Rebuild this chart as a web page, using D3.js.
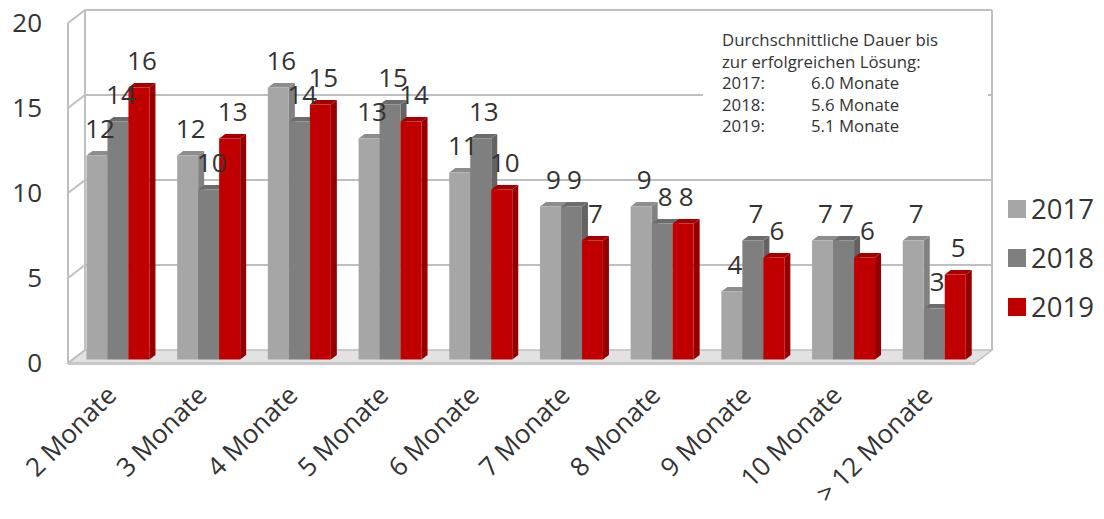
<!DOCTYPE html>
<html><head><meta charset="utf-8">
<script src="https://cdn.jsdelivr.net/npm/d3@7"></script>
<style>
html,body{margin:0;padding:0;background:#fff;}
text{font-family:"Open Sans",sans-serif;fill:#333;}
</style></head>
<body>
<svg id="c" width="1104" height="519"></svg>
<script>
const categories = ["2 Monate","3 Monate","4 Monate","5 Monate","6 Monate","7 Monate","8 Monate","9 Monate","10 Monate","> 12 Monate"];
const series = ["2017","2018","2019"];
const values2017 = [12,12,16,13,11,9,9,4,7,7];
const values2018 = [14,10,14,15,13,9,8,7,7,3];
const values2019 = [16,13,15,14,10,7,8,6,6,5];
const yTicks = [0,5,10,15,20];
const noteLines = ["Durchschnittliche Dauer bis","zur erfolgreichen Lösung:"];
const noteYears = ["2017:","2018:","2019:"];
const noteValues = ["6.0 Monate","5.6 Monate","5.1 Monate"];

const colors = {"2017":"#A6A6A6","2018":"#7F7F7F","2019":"#C00000"};
const data = series.map((s,i)=>({s, vals:[values2017,values2018,values2019][i]}));

const svg = d3.select("#c");
const gridC = "#BFBFBF";

// back wall geometry
const BX0 = 85, BX1 = 992;
const yBack = d3.scaleLinear().domain([0,20]).range([350,10]);
const FX = -17, FY = 13;           // front plane offset
const PX = -12.4, PY = 9.5;        // bar plane offset
const DX = 6, DY = -4.6;           // bar depth

const x = d3.scaleBand().domain(categories).range([BX0+PX, BX1+PX]).paddingInner(0.3054).paddingOuter(0.1527);
const xs = d3.scaleBand().domain(series).range([0, x.bandwidth()]);
const yBar = v => yBack(v) + PY;

// floor
const b0 = yBack(0);
svg.append("polygon")
  .attr("points", [[BX0,b0],[BX1,b0],[BX1+FX,b0+FY],[BX0+FX,b0+FY]].map(p=>p.join(",")).join(" "))
  .attr("fill","#E2E2E2").attr("stroke",gridC).attr("stroke-width",1.5);
svg.append("line").attr("x1",BX0+FX).attr("x2",BX1+FX).attr("y1",b0+FY+1).attr("y2",b0+FY+1)
  .attr("stroke","#C8C8C8").attr("stroke-width",2);

// gridlines back wall + left wall
yTicks.forEach(t=>{
  const yy = yBack(t);
  if (t>0) svg.append("line").attr("x1",BX0).attr("x2",BX1).attr("y1",yy).attr("y2",yy)
    .attr("stroke",gridC).attr("stroke-width",2);
  svg.append("line").attr("x1",BX0).attr("x2",BX0+FX).attr("y1",yy).attr("y2",yy+FY)
    .attr("stroke",gridC).attr("stroke-width",2);
});
// wall edges
svg.append("line").attr("x1",BX0).attr("x2",BX0).attr("y1",yBack(20)).attr("y2",yBack(0)).attr("stroke",gridC).attr("stroke-width",2);
svg.append("line").attr("x1",BX1).attr("x2",BX1).attr("y1",yBack(20)).attr("y2",yBack(0)).attr("stroke",gridC).attr("stroke-width",2);
svg.append("line").attr("x1",BX0+FX).attr("x2",BX0+FX).attr("y1",yBack(20)+FY).attr("y2",yBack(0)+FY).attr("stroke",gridC).attr("stroke-width",2);

// note box
svg.append("rect").attr("x",703).attr("y",22).attr("width",285).attr("height",125).attr("fill","#fff");
const note = svg.append("g").attr("font-size",16.8);
noteLines.forEach((t,i)=>note.append("text").attr("x",722).attr("y",46+i*21.5).text(t));
noteYears.forEach((t,i)=>{
  note.append("text").attr("x",722).attr("y",46+(i+2)*21.5).text(t);
  note.append("text").attr("x",811).attr("y",46+(i+2)*21.5).text(noteValues[i]);
});

// bars
const shade = (c,k)=>d3.color(c).darker(k).formatHex();
const gBars = svg.append("g");
categories.forEach((cat,ci)=>{
  data.forEach(d=>{
    const v = d.vals[ci];
    const x0 = x(cat)+xs(d.s), x1 = x0 + xs.bandwidth();
    const yt = yBar(v), yb = yBar(0);
    const c = colors[d.s];
    const g = gBars.append("g");
    g.append("polygon").attr("points",[[x1,yt],[x1+DX,yt+DY],[x1+DX,yb+DY],[x1,yb]].map(p=>p.join(",")).join(" "))
      .attr("fill", shade(c,0.7));
    g.append("polygon").attr("points",[[x0,yt],[x0+DX,yt+DY],[x1+DX,yt+DY],[x1,yt]].map(p=>p.join(",")).join(" "))
      .attr("fill", shade(c,0.45));
    g.append("rect").attr("x",x0).attr("y",yt).attr("width",x1-x0).attr("height",yb-yt).attr("fill",c);
  });
});
// value labels
const gLab = svg.append("g").attr("font-size",26).attr("text-anchor","middle");
categories.forEach((cat,ci)=>{
  data.forEach(d=>{
    const v = d.vals[ci];
    gLab.append("text").attr("x", x(cat)+xs(d.s)+xs.bandwidth()/2+DX/2).attr("y", yBar(v)-18).text(v);
  });
});

// y axis labels
const gY = svg.append("g").attr("font-size",26).attr("text-anchor","end");
yTicks.forEach(t=>gY.append("text").attr("x",42).attr("y",yBack(t)+FY).attr("dy","0.36em").text(t));

// x labels
const gX = svg.append("g").attr("font-size",26).attr("text-anchor","end");
categories.forEach(cat=>{
  const cx = x(cat)+x.bandwidth()/2, cy = 397;
  gX.append("text").attr("transform",`translate(${cx},${cy}) rotate(-45)`).text(cat);
});

// legend
const gL = svg.append("g").attr("font-size",27.5);
series.forEach((s,i)=>{
  const yy = 209 + i*49;
  gL.append("rect").attr("x",1008).attr("y",yy-9).attr("width",18).attr("height",18).attr("fill",colors[s]);
  gL.append("text").attr("x",1031).attr("y",yy).attr("dy","0.36em").text(s);
});
</script>
</body></html>
